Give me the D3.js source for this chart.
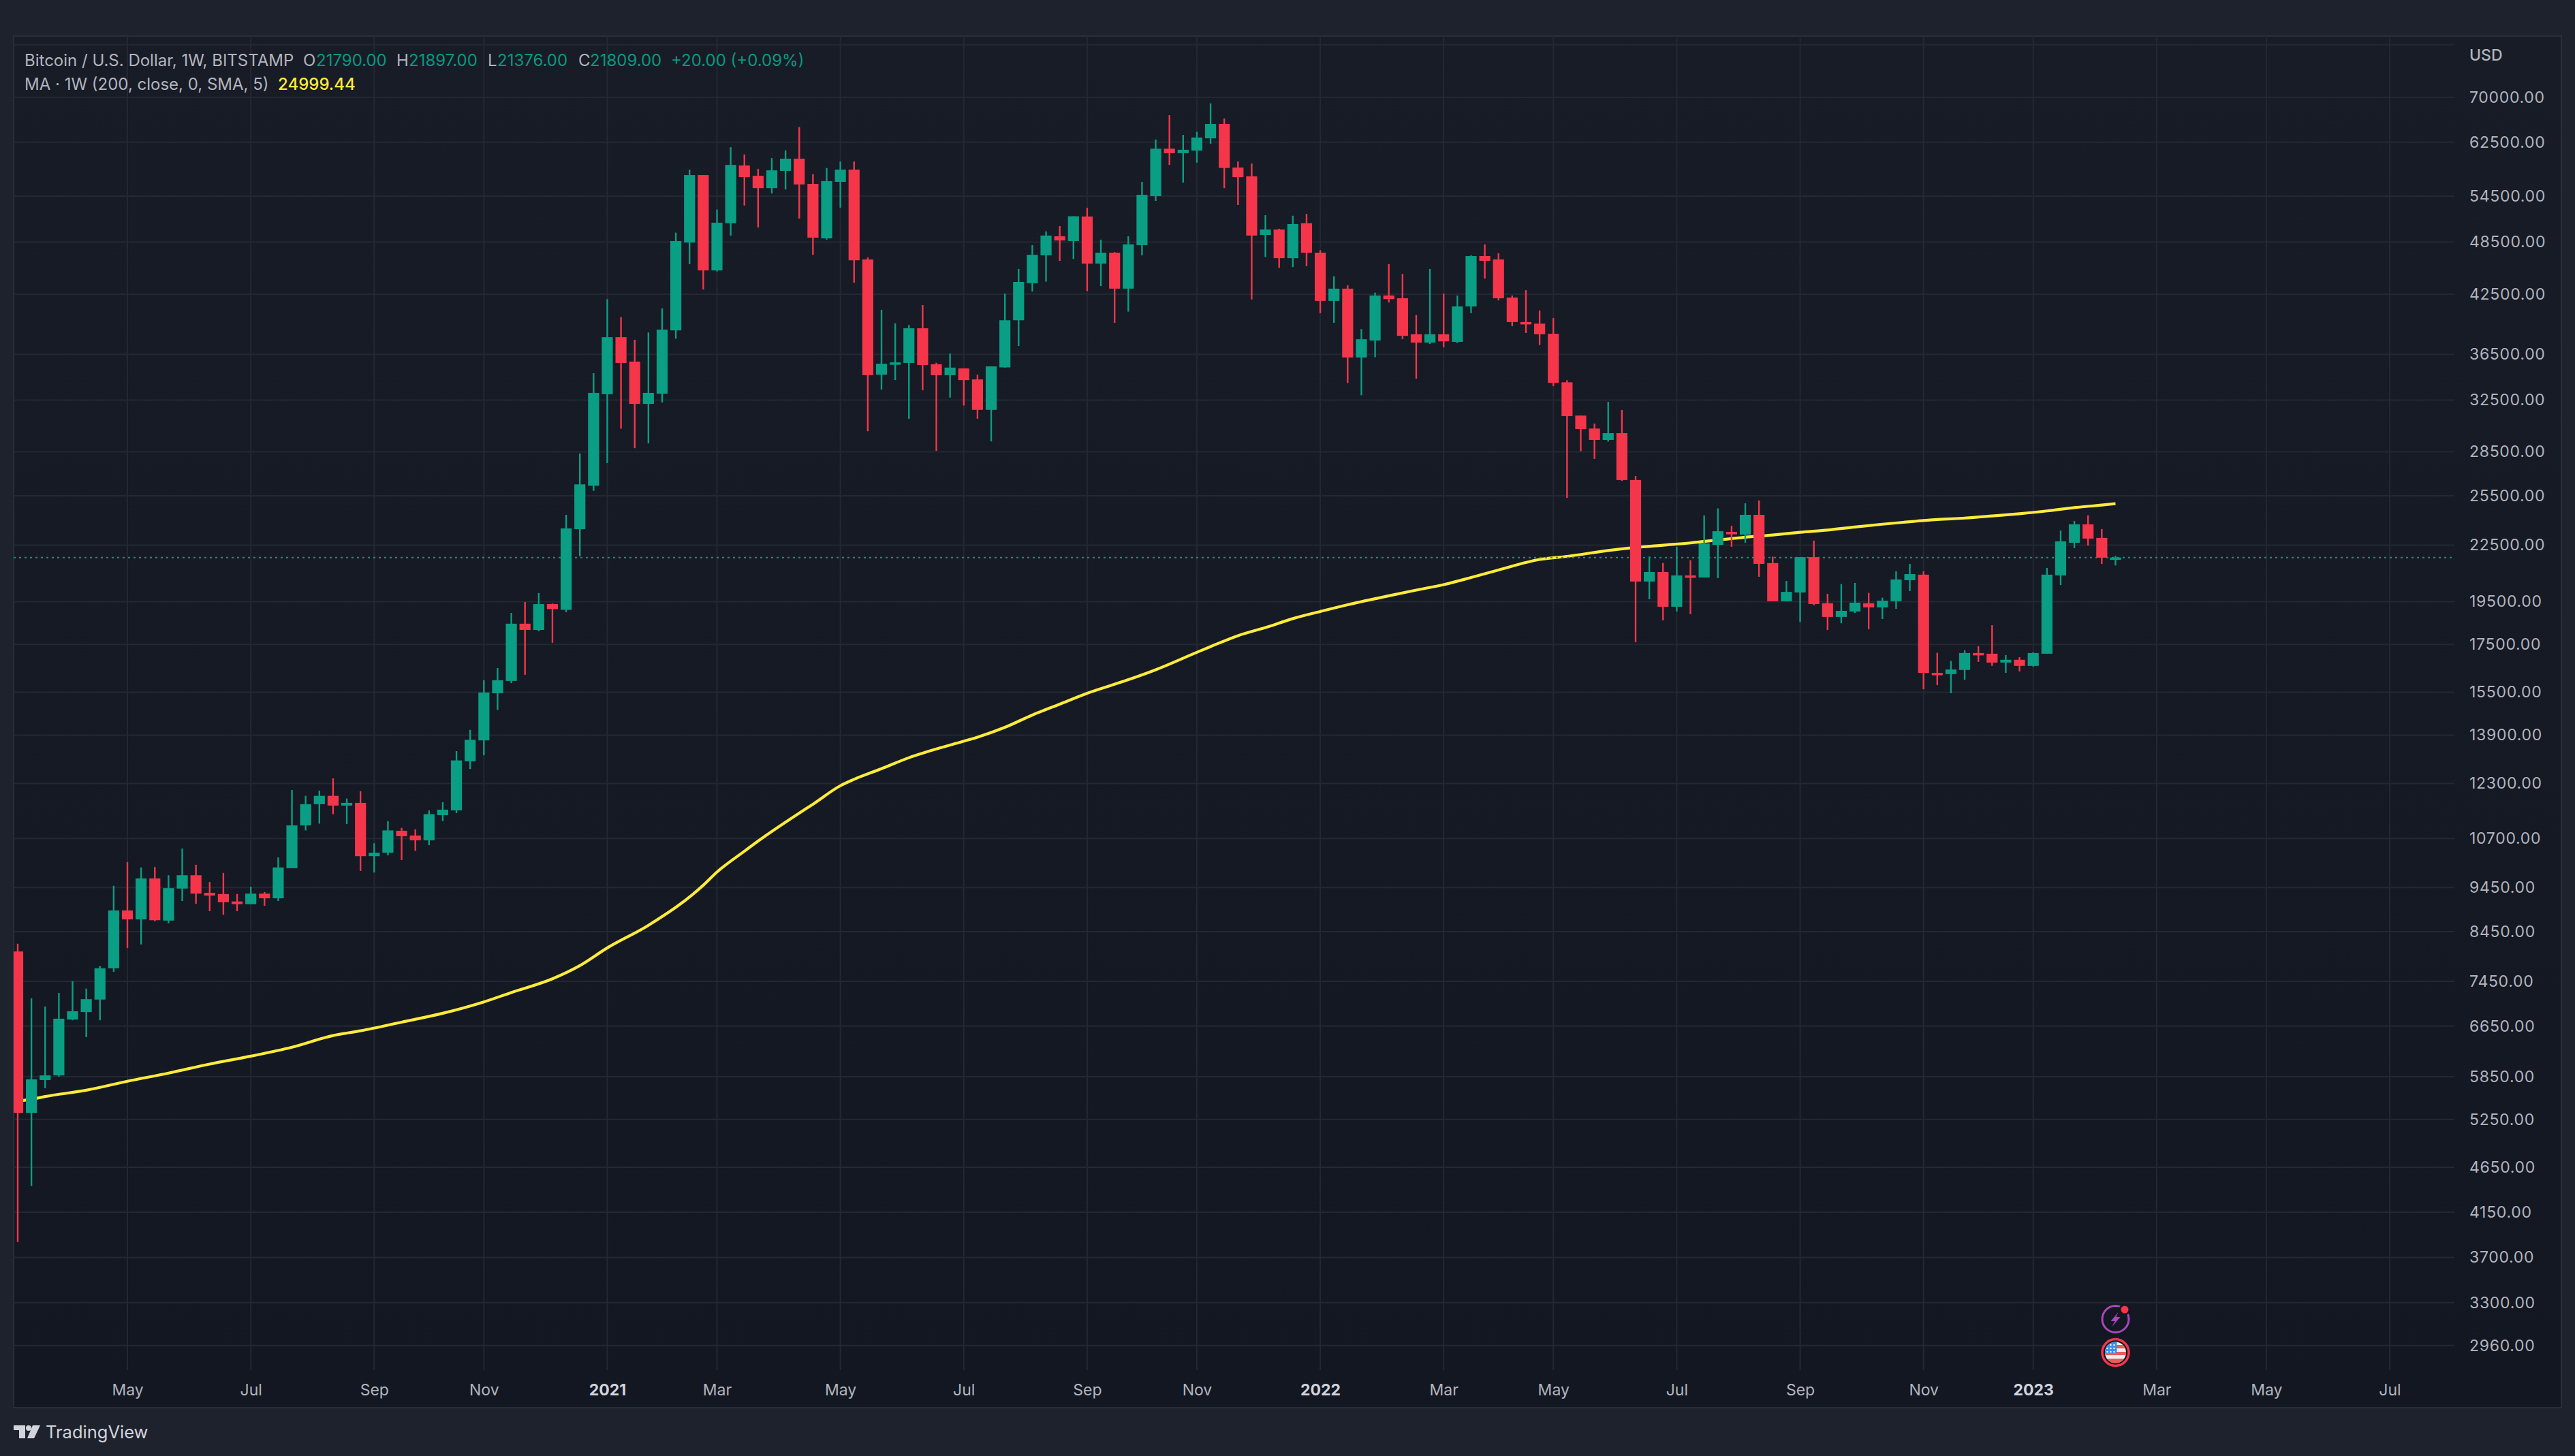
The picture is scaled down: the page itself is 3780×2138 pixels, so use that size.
<!DOCTYPE html>
<html>
<head>
<meta charset="utf-8">
<script src="https://cdn.jsdelivr.net/npm/d3@7"></script>
<style>
  html, body { margin: 0; background: #1e222d; }
  text { font-family: Inter, "Noto Sans", sans-serif; }
</style>
</head>
<body>
<svg id="chart" width="3780" height="2138"></svg>
<script>
// Weekly candles, first candle is the week of 2020-03-09
const open = [
  8035,5337,5800,5869,6762,6891,7113,7700,8916,8715,
  9670,8689,9424,9747,9322,9294,9121,9058,9304,9194,
  9922,11060,11670,11920,11630,11710,10230,10320,10910,10780,
  10650,11350,11490,13010,13720,15460,15950,18440,18150,19380,
  19100,23430,26160,32990,38120,35830,32190,33030,38780,48450,
  57490,45150,50880,58910,57380,55620,58100,59930,56220,48970,
  56510,58290,46420,34660,35590,35710,38990,35590,34620,35220,
  34250,31710,35310,39790,43710,46910,49230,48640,51760,45930,
  47220,43110,48130,54500,61460,60770,61170,63100,65440,58600,
  57300,49390,50080,46570,50880,47220,41790,43110,36210,37800,
  42370,42070,38400,37600,38400,37670,41210,46820,46420,42150,
  39610,39450,38450,34000,31250,30240,29380,29890,26540,20520,
  21020,19250,20840,20730,22520,23270,23110,24300,21500,19520,
  19960,21830,19420,18760,19020,19420,19220,19520,20590,20880,
  16280,16230,16400,17120,17090,16710,16830,16570,17090,20840,
  22640,23720,22920,21790];
const high = [
  8195,7134,6987,7234,7452,7313,7745,9490,10080,9942,
  9952,9747,10430,10010,9584,9805,9294,9471,9341,10200,
  12100,11920,12080,12460,11840,12060,10570,11180,10990,10950,
  11490,11730,13350,14090,15980,16480,18950,19480,19930,19410,
  24300,28390,34800,41980,40110,37870,38580,41020,49680,58290,
  57490,52690,61700,60570,58410,60010,61210,64920,57610,58530,
  59500,59500,46660,40860,39480,39320,41350,35730,36570,35220,
  34660,35400,42570,45320,48130,49850,50510,51790,52900,48810,
  47310,49230,56510,62900,66920,63650,64150,68940,66350,59500,
  59190,51930,50180,51860,52100,47530,44490,43480,38910,42680,
  45870,44760,40320,45320,42570,42370,46910,48230,47160,42370,
  42940,40780,40010,34180,31250,30620,32360,31700,26810,21860,
  21510,22410,21660,24270,24700,23640,25020,25200,21860,20550,
  21830,22760,19890,20390,20450,19940,19700,21060,21460,21060,
  17130,16780,17240,17420,18370,17030,16940,17150,21240,23350,
  23930,24270,23440,21897];
const low = [
  3848,4434,5680,5852,6749,6467,6749,7631,8107,8179,
  8672,8629,9130,9067,8898,8819,8898,9058,9022,9130,
  9922,10920,11110,11380,11100,9854,9815,10250,10130,10370,
  10520,11180,11410,12760,13210,14820,15860,16200,18090,17570,
  18990,21880,25820,27710,30230,28770,29120,32300,37970,45870,
  43020,45030,49320,53220,50340,54890,55440,51490,46970,48810,
  52940,43770,30030,33380,34190,31000,33320,28580,32710,32060,
  31000,29270,35290,37280,42790,43880,46260,46480,42850,43390,
  39530,40670,46910,53850,58990,56400,59340,62230,55620,53290,
  41950,46720,45440,45530,45630,40510,39530,33940,32900,36230,
  41620,37920,34320,37470,37150,37550,40510,44230,41840,39190,
  38530,37370,33670,25370,28560,28000,29250,26480,17590,19620,
  18600,19020,18890,20730,20700,22410,22640,20770,19520,19520,
  18520,19320,18150,18460,18950,18180,18660,19150,20030,15620,
  15780,15460,16000,16740,16570,16280,16340,16540,17090,20340,
  22330,22480,21460,21376];
const close = [
  5337,5811,5869,6776,6905,7120,7700,8916,8715,9670,
  8697,9434,9747,9304,9258,9103,9058,9304,9194,9942,
  11060,11670,11920,11630,11710,10230,10320,10920,10760,10650,
  11380,11510,13040,13740,15490,15980,18440,18150,19380,19140,
  23480,26250,33100,38120,35710,32190,33100,38860,48640,57490,
  45150,50950,58990,57190,55620,58180,59930,56140,49060,56620,
  58290,46320,34620,35640,35760,38990,35520,34620,35290,34190,
  31710,35400,39790,43850,46970,49320,48710,51790,45930,47220,
  43110,48230,54680,61460,60770,61300,63230,65440,58530,57190,
  49320,50080,46570,50780,47220,41790,43110,36210,37920,42370,
  41980,38250,37600,38400,37720,41210,46820,46260,42070,39610,
  39400,38400,33960,31210,30200,29380,29890,26540,20520,21020,
  19250,20840,20770,22600,23310,23150,24300,21460,19520,19990,
  21830,19380,18760,19050,19450,19220,19550,20630,20910,16280,
  16230,16420,17120,17060,16710,16830,16570,17120,20880,22720,
  23720,22880,21800,21809];

// MA(200) read every few weeks, maWeek is the candle number
const maWeek = [0,1,2,5,8,11,14,17,20,23,25,28,31,34,36,39,41,43,46,50,51,53,54,57,58,60,61,63,65,68,70,72,74,76,78,81,83,86,87,89,91,93,95,97,100,102,104,106,108,111,113,116,118,120,122,124,126,128,130,132,134,136,138,140,142,144,146,148,150,152,153];
const maValue = [5499,5525,5563,5653,5783,5904,6040,6162,6303,6493,6571,6717,6870,7071,7241,7497,7752,8108,8586,9503,9827,10360,10630,11410,11670,12230,12430,12770,13130,13560,13830,14180,14630,15040,15460,16000,16410,17150,17400,17890,18260,18680,19020,19350,19790,20080,20360,20730,21130,21700,21870,22200,22370,22500,22630,22800,22960,23090,23250,23380,23560,23730,23880,24010,24100,24230,24370,24540,24750,24910,24999.44];

const priceTicks = [70000,62500,54500,48500,42500,36500,32500,28500,25500,22500,19500,17500,15500,13900,12300,10700,9450,8450,7450,6650,5850,5250,4650,4150,3700,3300,2960];
const timeTicks = ['2020-05-04','2020-07-06','2020-09-07','2020-11-02','2021-01-04','2021-03-01','2021-05-03','2021-07-05','2021-09-06','2021-11-01','2022-01-03','2022-03-07','2022-05-02','2022-07-04','2022-09-05','2022-11-07','2023-01-02','2023-03-06','2023-05-01','2023-07-03'];
const timeLabels = ['May','Jul','Sep','Nov','2021','Mar','May','Jul','Sep','Nov','2022','Mar','May','Jul','Sep','Nov','2023','Mar','May','Jul'];

const lastClose = 21809;
const upColor = '#0a9e84';
const downColor = '#f5364a';
const legendGreen = '#089981';

const pane = {left: 20, top: 53, right: 3760, bottom: 2067};
const plotRight = 3603;
const plotBottom = 2012;

const weeks = d3.utcMonday.range(new Date(Date.UTC(2020, 2, 9)), new Date(Date.UTC(2023, 1, 14)));
const candles = weeks.map((date, i) => ({date, o: open[i], h: high[i], l: low[i], c: close[i]}));
const ma = maWeek.map((w, i) => ({date: weeks[w], value: maValue[i]}));

const xScale = d3.scaleUtc()
  .domain([new Date('2020-03-09'), new Date('2023-07-03')])
  .range([26, 3508]);

const yScale = d3.scaleLog()
  .domain([70000, 2960])
  .range([143, 1975.7]);

const svg = d3.select('#chart');

const defs = svg.append('defs');
const gradient = defs.append('linearGradient')
  .attr('id', 'paneFill')
  .attr('x1', 0).attr('y1', 0).attr('x2', 0).attr('y2', 1);
gradient.append('stop').attr('offset', 0).attr('stop-color', '#181c27');
gradient.append('stop').attr('offset', 1).attr('stop-color', '#131722');

defs.append('clipPath').attr('id', 'plotClip')
  .append('rect')
  .attr('x', pane.left).attr('y', pane.top)
  .attr('width', plotRight - pane.left).attr('height', plotBottom - pane.top);

defs.append('clipPath').attr('id', 'flagClip')
  .append('circle').attr('r', 15.5);

svg.append('rect').attr('width', 3780).attr('height', 2138).attr('fill', '#1e222d');

svg.append('rect')
  .attr('x', pane.left).attr('y', pane.top)
  .attr('width', pane.right - pane.left).attr('height', pane.bottom - pane.top)
  .attr('fill', 'url(#paneFill)')
  .attr('stroke', '#2a2e39')
  .attr('stroke-width', 2);

// Grid
const grid = svg.append('g').attr('stroke', '#242833').attr('stroke-width', 2);

grid.selectAll('.h')
  .data([80000, ...priceTicks])
  .join('line')
  .attr('x1', pane.left).attr('x2', plotRight)
  .attr('y1', d => yScale(d)).attr('y2', d => yScale(d));

grid.selectAll('.v')
  .data(timeTicks)
  .join('line')
  .attr('x1', d => xScale(new Date(d))).attr('x2', d => xScale(new Date(d)))
  .attr('y1', pane.top).attr('y2', plotBottom);

// Axes
const priceAxis = d3.axisRight(yScale)
  .tickValues(priceTicks)
  .tickSize(0)
  .tickPadding(22)
  .tickFormat(d3.format('.2f'));

const timeAxis = d3.axisBottom(xScale)
  .tickValues(timeTicks.map(d => new Date(d)))
  .tickSize(0)
  .tickPadding(21)
  .tickFormat((d, i) => timeLabels[i]);

const priceG = svg.append('g')
  .attr('transform', `translate(${plotRight},0)`)
  .call(priceAxis);
priceG.select('.domain').remove();
priceG.selectAll('text')
  .attr('fill', '#b2b5be')
  .style('font-size', '23px')
  .style('letter-spacing', '0.7px');

const timeG = svg.append('g')
  .attr('transform', `translate(0,${plotBottom})`)
  .call(timeAxis);
timeG.select('.domain').remove();
timeG.selectAll('text')
  .attr('fill', (d, i) => /^\d/.test(timeLabels[i]) ? '#d1d4dc' : '#b2b5be')
  .style('font-size', '23px')
  .style('font-weight', (d, i) => /^\d/.test(timeLabels[i]) ? 700 : 400);

svg.append('text')
  .attr('x', 3625).attr('y', 89)
  .attr('fill', '#b2b5be')
  .style('font-size', '23px')
  .style('font-weight', 500)
  .text('USD');

const plot = svg.append('g').attr('clip-path', 'url(#plotClip)');

// MA sits under the candles
const maLine = d3.line()
  .x(d => xScale(d.date))
  .y(d => yScale(d.value))
  .curve(d3.curveMonotoneX);

plot.append('path')
  .datum(ma)
  .attr('d', maLine)
  .attr('fill', 'none')
  .attr('stroke', '#ffeb3b')
  .attr('stroke-width', 4.2);

// Last price line
plot.append('line')
  .attr('x1', pane.left).attr('x2', plotRight)
  .attr('y1', yScale(lastClose)).attr('y2', yScale(lastClose))
  .attr('stroke', legendGreen)
  .attr('stroke-width', 2)
  .attr('stroke-dasharray', '3 5');

const candleColor = d => d.c >= d.o ? upColor : downColor;

plot.selectAll('.wick')
  .data(candles)
  .join('line')
  .attr('x1', d => xScale(d.date)).attr('x2', d => xScale(d.date))
  .attr('y1', d => yScale(d.h)).attr('y2', d => yScale(d.l))
  .attr('stroke', candleColor)
  .attr('stroke-width', 2.4);

plot.selectAll('.body')
  .data(candles)
  .join('rect')
  .attr('x', d => xScale(d.date) - 8.1)
  .attr('width', 16.2)
  .attr('y', d => yScale(Math.max(d.o, d.c)))
  .attr('height', d => Math.max(3.5, Math.abs(yScale(d.o) - yScale(d.c))))
  .attr('fill', candleColor);

// Legend, two rows at the top left
const legendRows = [
  {y: 97, parts: [
    {x: 36, fill: '#b2b5be', text: 'Bitcoin / U.S. Dollar, 1W, BITSTAMP'},
    {x: 445, fill: '#b2b5be', text: 'O'},
    {x: 464, fill: legendGreen, text: '21790.00'},
    {x: 582, fill: '#b2b5be', text: 'H'},
    {x: 600, fill: legendGreen, text: '21897.00'},
    {x: 716, fill: '#b2b5be', text: 'L'},
    {x: 730, fill: legendGreen, text: '21376.00'},
    {x: 849, fill: '#b2b5be', text: 'C'},
    {x: 866, fill: legendGreen, text: '21809.00'},
    {x: 985, fill: legendGreen, text: '+20.00 (+0.09%)'}
  ]},
  {y: 132, parts: [
    {x: 36, fill: '#b2b5be', text: 'MA · 1W (200, close, 0, SMA, 5)'},
    {x: 408, fill: '#ffeb3b', text: '24999.44', weight: 500}
  ]}
];

legendRows.forEach(row => {
  svg.append('g').selectAll('text')
    .data(row.parts)
    .join('text')
    .attr('x', d => d.x).attr('y', row.y)
    .attr('fill', d => d.fill)
    .style('font-size', '24px')
    .style('font-weight', d => d.weight || 400)
    .text(d => d.text);
});

// Event markers under the last candle
const markerX = xScale(weeks[weeks.length - 1]);

const bolt = svg.append('g').attr('transform', `translate(${markerX},1937)`);
bolt.append('circle').attr('r', 19.5).attr('fill', 'none').attr('stroke', '#ab47bc').attr('stroke-width', 3);
bolt.append('path').attr('d', 'M4,-10L-7,3L-1,3L-5,11L7,-3L1,-3Z').attr('fill', '#ab47bc');
bolt.append('circle').attr('cx', 13.5).attr('cy', -14).attr('r', 8.5).attr('fill', '#131722');
bolt.append('circle').attr('cx', 13.5).attr('cy', -14).attr('r', 5.5).attr('fill', downColor);

const flag = svg.append('g').attr('transform', `translate(${markerX},1986)`);
flag.append('circle').attr('r', 19.5).attr('fill', '#131722').attr('stroke', downColor).attr('stroke-width', 3.5);
const flagInner = flag.append('g').attr('clip-path', 'url(#flagClip)');
flagInner.append('rect').attr('x', -16).attr('y', -16).attr('width', 32).attr('height', 32).attr('fill', '#f0f0f0');
flagInner.append('rect').attr('x', -16).attr('y', -11).attr('width', 32).attr('height', 5).attr('fill', '#f05a55');
flagInner.append('rect').attr('x', -16).attr('y', -1).attr('width', 32).attr('height', 5).attr('fill', '#f05a55');
flagInner.append('rect').attr('x', -16).attr('y', 9).attr('width', 32).attr('height', 7).attr('fill', '#f05a55');
flagInner.append('rect').attr('x', -16).attr('y', -16).attr('width', 18).attr('height', 17).attr('fill', '#3f8cf0');
flagInner.selectAll('.star')
  .data(d3.cross([-12, -7, -2], [-11, -6, -1]))
  .join('circle')
  .attr('cx', d => d[0]).attr('cy', d => d[1]).attr('r', 1.2).attr('fill', '#ffffff');

// TradingView mark
const logo = svg.append('g').attr('fill', '#d1d4dc');
logo.append('path').attr('d', 'M20,2093H37V2112H28V2100H20Z');
logo.append('circle').attr('cx', 42).attr('cy', 2097).attr('r', 4);
logo.append('path').attr('d', 'M48,2093H59L50,2112H40Z');
logo.append('text')
  .attr('x', 67).attr('y', 2112)
  .style('font-size', '25.5px')
  .text('TradingView');
</script>
</body>
</html>
